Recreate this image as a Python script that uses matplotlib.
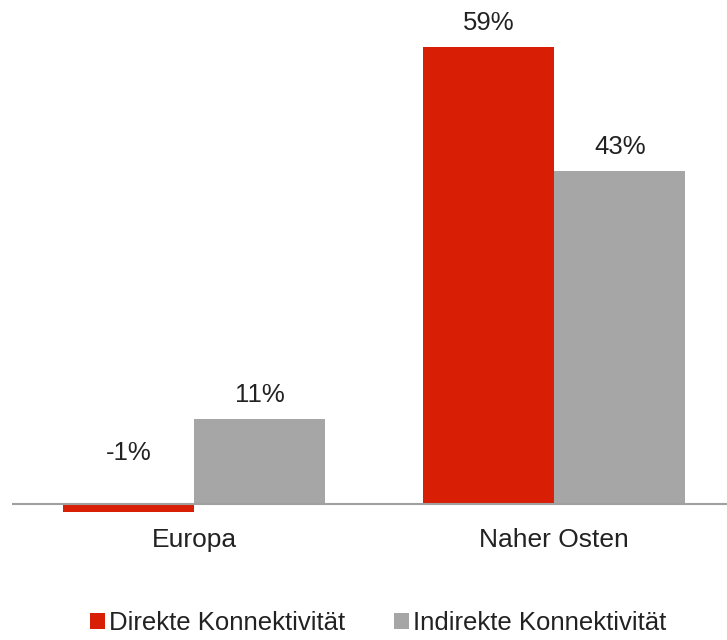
import matplotlib
matplotlib.use("Agg")
import matplotlib.pyplot as plt
from matplotlib.patches import Patch

regions = ["Europa", "Naher Osten"]
direct = [-1, 59]
indirect = [11, 43]
series_names = ["Direkte Konnektivität", "Indirekte Konnektivität"]

red = "#D81E05"
gray = "#A6A6A6"
textcol = "#222222"

plt.rcParams["font.family"] = ["Liberation Sans", "DejaVu Sans"]

fig = plt.figure(figsize=(7.27, 6.4), dpi=100)
ax = fig.add_axes([12 / 727, 120 / 640, 715 / 727, 520 / 640])

w = 0.364
x = list(range(len(regions)))
xd = [i - w / 2 for i in x]
xi = [i + w / 2 for i in x]
ax.bar(xd, direct, width=w, color=red, zorder=2)
ax.bar(xi, indirect, width=w, color=gray, zorder=2)

# value labels
for xs, vals in ((xd, direct), (xi, indirect)):
    for xx, v in zip(xs, vals):
        if v >= 0:
            ax.annotate(f"{v}%", (xx, v), xytext=(0, 17), textcoords="offset points",
                        ha="center", va="center", fontsize=18.5, color=textcol)
        else:
            ax.annotate(f"{v}%", (xx, 0), xytext=(0, 37), textcoords="offset points",
                        ha="center", va="center", fontsize=18.5, color=textcol)

ax.axhline(0, color="#A0A0A0", lw=1.5, zorder=3)
ax.set_xlim(-0.506, 1.48)
ax.set_ylim(-2.06, 65.0)
ax.set_yticks([])
ax.set_xticks(x)
ax.set_xticklabels(regions, fontsize=19, color=textcol)
ax.tick_params(axis="x", length=0, pad=6)
for s in ax.spines.values():
    s.set_visible(False)

handles = [Patch(facecolor=red), Patch(facecolor=gray)]
leg = fig.legend(handles, series_names, loc="lower center", ncol=2,
                 bbox_to_anchor=(0.52, -0.028), frameon=False,
                 handlelength=0.6, handleheight=0.6, handletextpad=0.15,
                 columnspacing=1.9, prop={"size": 18.5})
for t in leg.get_texts():
    t.set_color(textcol)

fig.savefig("out.png", dpi=100)
